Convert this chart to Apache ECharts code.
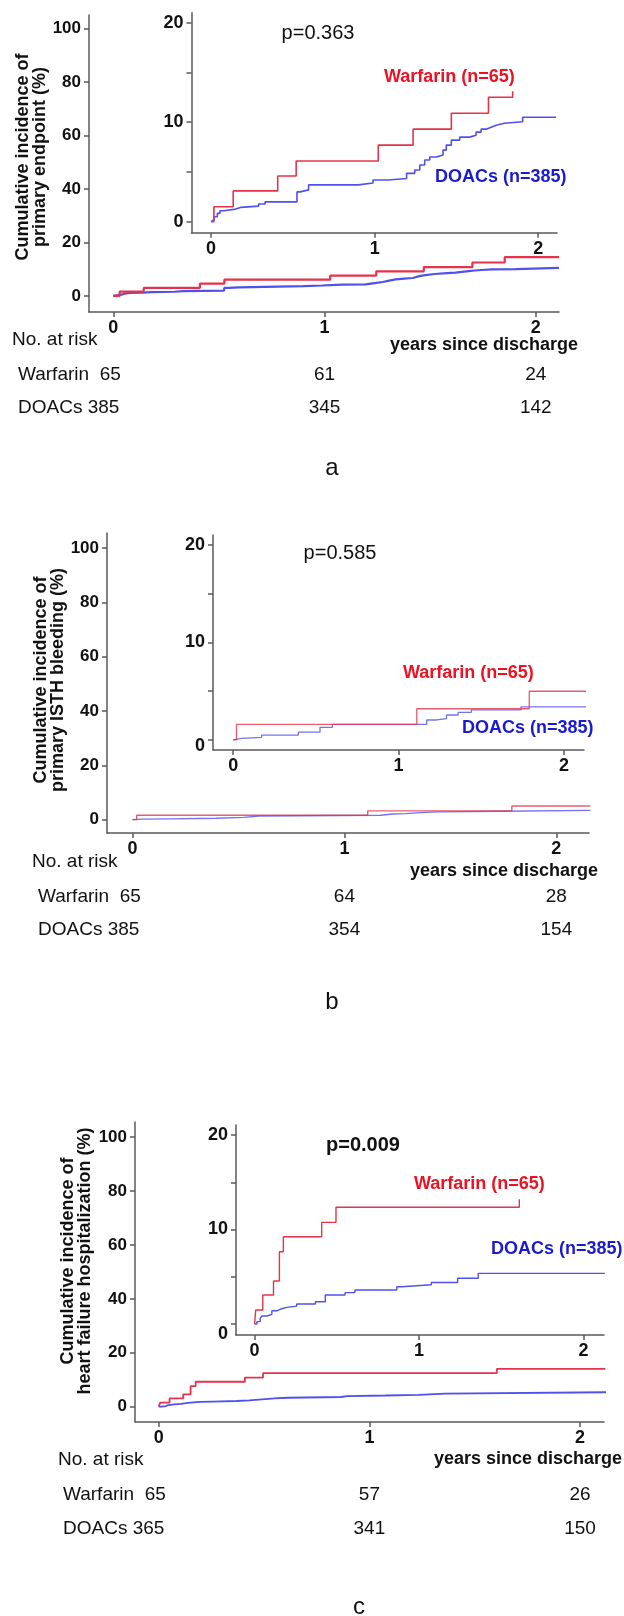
<!DOCTYPE html>
<html>
<head>
<meta charset="utf-8">
<script src="https://cdn.jsdelivr.net/npm/echarts@6.0.0/dist/echarts.min.js"></script>
<style>
  html, body { margin: 0; padding: 0; background: #fff; }
  #chart { width: 624px; height: 1616px; }
</style>
</head>
<body>
<div id="chart"></div>
<script>
// ---- data (years since discharge, cumulative incidence %) ----
const yearTicks = [0, 1, 2];
const mainYTicks = [0, 20, 40, 60, 80, 100];
const insetYTicks = [0, 5, 10, 15, 20];
const insetYLabels = [0, 10, 20];
const groups = ['Warfarin', 'DOACs'];
const groupLabels = ['Warfarin (n=65)', 'DOACs (n=385)'];
const pValues = ['p=0.363', 'p=0.585', 'p=0.009'];
const panelLetters = ['a', 'b', 'c'];
const yTitles = [
  'Cumulative incidence of\nprimary endpoint (%)',
  'Cumulative incidence of\nprimary ISTH bleeding (%)',
  'Cumulative incidence of\nheart failure hospitalization (%)'
];

// a: primary endpoint
const aWarfarinMain = [[0, 0], [0.03, 1.6], [0.144, 3.0], [0.41, 4.6], [0.526, 6.1], [1.027, 7.6], [1.245, 9.2],
  [1.47, 10.8], [1.70, 12.5], [1.853, 14.5], [2.11, 14.5]];
const aWarfarin = [[0, 0], [0.017, 1.5], [0.135, 3.1], [0.407, 4.6], [0.52, 6.1], [1.022, 7.7], [1.235, 9.3],
  [1.469, 10.9], [1.696, 12.5], [1.844, 12.5], [1.844, 13.1]];
const aDoacs = [[0, 0], [0.005, 0.2], [0.017, 0.5], [0.038, 0.84], [0.054, 1.1], [0.078, 1.24], [0.139, 1.44],
  [0.18, 1.57], [0.29, 1.78], [0.33, 2.0], [0.525, 3.0], [0.545, 3.2], [0.596, 3.7], [0.90, 3.9], [0.99, 4.2],
  [1.083, 4.35], [1.195, 4.86], [1.245, 5.2], [1.276, 5.7], [1.306, 6.2], [1.337, 6.5], [1.377, 6.7],
  [1.418, 7.2], [1.438, 7.7], [1.469, 8.2], [1.52, 8.5], [1.58, 8.7], [1.62, 9.0], [1.651, 9.3], [1.682, 9.5],
  [1.712, 9.7], [1.743, 9.9], [1.793, 10.05], [1.905, 10.5], [2.11, 10.5]];
const aRiskWarfarin = [65, 61, 24];
const aRiskDoacs = [385, 345, 142];

// b: primary ISTH bleeding
const bWarfarin = [[0, 0], [0.02, 1.6], [1.11, 3.2], [1.79, 5.0], [2.16, 5.0]];
const bDoacs = [[0, 0], [0.005, 0.17], [0.051, 0.27], [0.172, 0.5], [0.394, 0.8], [0.525, 1.3], [0.6, 1.6],
  [1.17, 2.05], [1.23, 2.2], [1.29, 2.56], [1.36, 2.84], [1.44, 3.08], [1.74, 3.4], [2.16, 3.4]];
const bRiskWarfarin = [65, 64, 28];
const bRiskDoacs = [385, 354, 154];

// c: heart failure hospitalization
const cWarfarinMain = [[0, 0], [0.006, 1.48], [0.051, 3.08], [0.116, 4.6], [0.151, 7.65], [0.175, 9.25],
  [0.409, 10.8], [0.495, 12.45], [1.605, 14.0], [2.12, 14.0]];
const cWarfarin = [[0, 0], [0.007, 1.48], [0.05, 3.07], [0.115, 4.55], [0.151, 7.65], [0.175, 9.24],
  [0.408, 10.76], [0.495, 12.35], [1.61, 12.35], [1.61, 13.2]];
const cDoacs = [[0, 0], [0.014, 0.25], [0.034, 0.6], [0.044, 0.85], [0.074, 1.02], [0.105, 1.41], [0.139, 1.62],
  [0.165, 1.76], [0.196, 1.9], [0.256, 2.12], [0.37, 2.36], [0.43, 3.07], [0.55, 3.32], [0.61, 3.6],
  [0.865, 3.95], [0.895, 4.15], [1.075, 4.4], [1.235, 4.85], [1.36, 5.36], [2.13, 5.36]];
const cRiskWarfarin = [65, 57, 26];
const cRiskDoacs = [365, 341, 150];

// ---- layout ----
const FONT = '"Liberation Sans", Arial, Helvetica, sans-serif';
const RED = '#e5334b', BLUE = '#5050ee';
const RED_TXT = '#ee1122', BLUE_TXT = '#1a1ad0';
const AXIS = '#5a5a5a';

const panels = [
  {
    main: { left: 89, top: 15, width: 470, height: 297, xMin: -0.115, xMax: 2.11, yMin: -6, yMax: 105 },
    inset: { left: 191.5, top: 12.7, width: 365.5, height: 220, xMin: -0.12, xMax: 2.115, yMin: -1.1, yMax: 21 },
    zeroDrop: 0, mainW: 2.2, insetW: 1.6,
    warfarinMain: aWarfarinMain, warfarin: aWarfarin, doacs: aDoacs, risk: [aRiskWarfarin, aRiskDoacs],
    p: { x: 318, y: 33, bold: false }, lab: [{ x: 384, y: 77 }, { x: 435, y: 177 }],
    ytitle: { x: 32, y: 157 }, noRisk: { x: 12, y: 340 }, years: { x: 390, y: 345 },
    rows: [375, 408], rowX: 18, letter: { x: 332, y: 468 }
  },
  {
    main: { left: 107, top: 533, width: 482, height: 300, xMin: -0.12, xMax: 2.154, yMin: -4.94, yMax: 105.6 },
    inset: { left: 213, top: 535, width: 371, height: 215, xMin: -0.122, xMax: 2.121, yMin: -1.03, yMax: 21.03 },
    zeroDrop: 6, mainW: 1.4, insetW: 1.3,
    warfarinMain: bWarfarin, warfarin: bWarfarin, doacs: bDoacs, risk: [bRiskWarfarin, bRiskDoacs],
    p: { x: 340, y: 553, bold: false }, lab: [{ x: 403, y: 673 }, { x: 462, y: 728 }],
    ytitle: { x: 50, y: 680 }, noRisk: { x: 32, y: 862 }, years: { x: 410, y: 871 },
    rows: [897, 930], rowX: 38, letter: { x: 332, y: 1002 }
  },
  {
    main: { left: 135, top: 1122, width: 469, height: 300, xMin: -0.113, xMax: 2.114, yMin: -5.67, yMax: 105.6 },
    inset: { left: 236, top: 1125, width: 368, height: 210, xMin: -0.113, xMax: 2.125, yMin: -1.16, yMax: 21.06 },
    zeroDrop: 10, mainW: 1.8, insetW: 1.4,
    warfarinMain: cWarfarinMain, warfarin: cWarfarin, doacs: cDoacs, risk: [cRiskWarfarin, cRiskDoacs],
    p: { x: 363, y: 1145, bold: true }, lab: [{ x: 414, y: 1184 }, { x: 491, y: 1249 }],
    ytitle: { x: 77, y: 1261 }, noRisk: { x: 58, y: 1460 }, years: { x: 434, y: 1459 },
    rows: [1495, 1529], rowX: 63, letter: { x: 359, y: 1607 }
  }
];

function xAxisCfg(gi, g) {
  return {
    type: 'value', gridIndex: gi, min: g.xMin, max: g.xMax, position: 'bottom',
    axisLine: { onZero: false, lineStyle: { color: AXIS, width: 1.5 } },
    axisTick: { customValues: yearTicks, length: 5, lineStyle: { color: AXIS, width: 1.5 } },
    axisLabel: { customValues: yearTicks, margin: 7, fontSize: 18, fontWeight: 'bold', color: '#111', fontFamily: FONT },
    splitLine: { show: false }
  };
}

function yAxisCfg(gi, g, ticks, labels, size, zeroDrop) {
  return {
    type: 'value', gridIndex: gi, min: g.yMin, max: g.yMax, position: 'left',
    axisLine: { onZero: false, lineStyle: { color: AXIS, width: 1.5 } },
    axisTick: { customValues: ticks, length: 5, lineStyle: { color: AXIS, width: 1.5 } },
    axisLabel: {
      customValues: labels, margin: 8, fontSize: size, fontWeight: 'bold', color: '#111', fontFamily: FONT,
      formatter: v => (v === 0 && zeroDrop ? '{z|0}' : String(v)),
      rich: { z: { fontSize: size, fontWeight: 'bold', color: '#111', fontFamily: FONT, padding: [zeroDrop * 2, 0, 0, 0] } }
    },
    splitLine: { show: false }
  };
}

function line(name, data, color, width, gi, op) {
  return {
    type: 'line', name, data, step: 'end', symbol: 'none', xAxisIndex: gi, yAxisIndex: gi,
    lineStyle: { color, width, opacity: op }, silent: true, clip: true
  };
}

const grid = [], xAxis = [], yAxis = [], series = [];
panels.forEach((p, i) => {
  const gm = i * 2, gi = i * 2 + 1;
  const op = i === 1 ? 0.8 : 1;
  grid.push({ left: p.main.left, top: p.main.top, width: p.main.width, height: p.main.height });
  grid.push({ left: p.inset.left, top: p.inset.top, width: p.inset.width, height: p.inset.height });
  xAxis.push(xAxisCfg(gm, p.main), xAxisCfg(gi, p.inset));
  yAxis.push(yAxisCfg(gm, p.main, mainYTicks, mainYTicks, 17, 0),
             yAxisCfg(gi, p.inset, insetYTicks, insetYLabels, 18, p.zeroDrop));
  series.push(line(groups[1], p.doacs, BLUE, p.mainW, gm, op));
  series.push(line(groups[0], p.warfarinMain, RED, p.mainW, gm, op));
  series.push(line(groups[1], p.doacs, BLUE, p.insetW, gi, op));
  series.push(line(groups[0], p.warfarin, RED, p.insetW, gi, op));
});

const chart = echarts.init(document.getElementById('chart'), null, { renderer: 'canvas' });
chart.setOption({ animation: false, backgroundColor: '#fff', grid, xAxis, yAxis, series });

function txt(x, y, text, o) {
  return {
    type: 'text', x, y, rotation: o.rot || 0, silent: true,
    style: {
      text, fontSize: o.size, fontWeight: o.bold ? 'bold' : 'normal', fontFamily: FONT,
      fill: o.color || '#111', align: o.align || 'left', verticalAlign: 'middle', lineHeight: o.lh
    }
  };
}

const graphic = [];
panels.forEach((p, i) => {
  const gm = i * 2;
  graphic.push(txt(p.p.x, p.p.y, pValues[i], { size: 20, bold: p.p.bold, align: 'center' }));
  graphic.push(txt(p.lab[0].x, p.lab[0].y, groupLabels[0], { size: 18, bold: true, color: RED_TXT }));
  graphic.push(txt(p.lab[1].x, p.lab[1].y, groupLabels[1], { size: 18, bold: true, color: BLUE_TXT }));
  graphic.push(txt(p.ytitle.x, p.ytitle.y, yTitles[i], { size: 18, bold: true, align: 'center', rot: Math.PI / 2, lh: 17 }));
  graphic.push(txt(p.noRisk.x, p.noRisk.y, 'No. at risk', { size: 19 }));
  graphic.push(txt(p.years.x, p.years.y, 'years since discharge', { size: 18, bold: true }));
  p.risk.forEach((r, k) => {
    const y = p.rows[k];
    graphic.push(txt(p.rowX, y, groups[k] + (k === 0 ? '  ' : ' ') + r[0], { size: 19 }));
    for (let j = 1; j < yearTicks.length; j++) {
      const x = chart.convertToPixel({ gridIndex: gm }, [yearTicks[j], 0])[0];
      graphic.push(txt(x, y, String(r[j]), { size: 19, align: 'center' }));
    }
  });
  graphic.push(txt(p.letter.x, p.letter.y, panelLetters[i], { size: 24, align: 'center' }));
});
chart.setOption({ graphic });
window.addEventListener('resize', () => chart.resize());
</script>
</body>
</html>
